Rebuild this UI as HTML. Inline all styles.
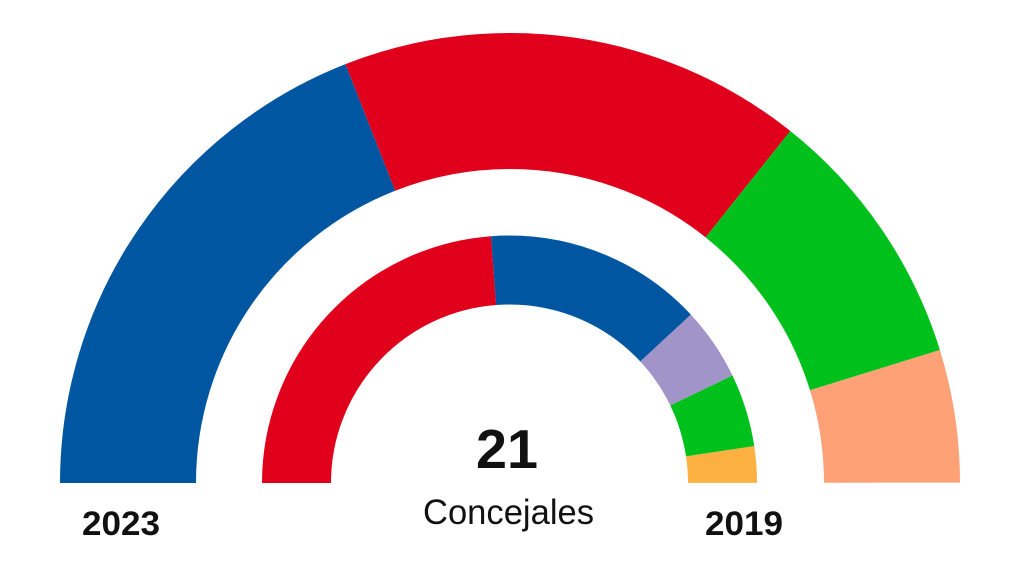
<!DOCTYPE html>
<html><head><meta charset="utf-8"><style>html,body{margin:0;padding:0;background:#fff;width:1024px;height:561px;overflow:hidden;}svg{display:block}</style></head>
<body>
<svg width="1024" height="561" viewBox="0 0 1024 561" xmlns="http://www.w3.org/2000/svg">
<g transform="rotate(180 510 483)" fill="none">
  <circle cx="510" cy="483" r="382" stroke="#0056a0" stroke-width="136" pathLength="42" stroke-dasharray="8 34" stroke-dashoffset="0"/>
  <circle cx="510" cy="483" r="382" stroke="#e1001b" stroke-width="136" pathLength="42" stroke-dasharray="7 35" stroke-dashoffset="-8"/>
  <circle cx="510" cy="483" r="382" stroke="#00c11b" stroke-width="136" pathLength="42" stroke-dasharray="4 38" stroke-dashoffset="-15"/>
  <circle cx="510" cy="483" r="382" stroke="#fea177" stroke-width="136" pathLength="42" stroke-dasharray="2 40" stroke-dashoffset="-19"/>
</g>
<g transform="rotate(180 509.5 483)" fill="none">
  <circle cx="509.5" cy="483" r="213" stroke="#e1001b" stroke-width="69" pathLength="42" stroke-dasharray="10 32" stroke-dashoffset="0"/>
  <circle cx="509.5" cy="483" r="213" stroke="#0056a0" stroke-width="69" pathLength="42" stroke-dasharray="6 36" stroke-dashoffset="-10"/>
  <circle cx="509.5" cy="483" r="213" stroke="#a194c8" stroke-width="69" pathLength="42" stroke-dasharray="2 40" stroke-dashoffset="-16"/>
  <circle cx="509.5" cy="483" r="213" stroke="#00c11b" stroke-width="69" pathLength="42" stroke-dasharray="2 40" stroke-dashoffset="-18"/>
  <circle cx="509.5" cy="483" r="213" stroke="#fbb040" stroke-width="69" pathLength="42" stroke-dasharray="1 41" stroke-dashoffset="-20"/>
</g>
<rect x="0" y="483" width="1024" height="78" fill="#fff"/>
<g font-family="Liberation Sans, sans-serif" fill="#111">
  <text x="476" y="468" font-size="55" font-weight="bold" textLength="62" lengthAdjust="spacingAndGlyphs">21</text>
  <text x="423" y="524" font-size="35" textLength="171" lengthAdjust="spacingAndGlyphs">Concejales</text>
  <text x="82" y="535" font-size="34" font-weight="bold" textLength="78" lengthAdjust="spacingAndGlyphs">2023</text>
  <text x="705" y="535" font-size="34" font-weight="bold" textLength="78" lengthAdjust="spacingAndGlyphs">2019</text>
</g>
</svg>
</body></html>
